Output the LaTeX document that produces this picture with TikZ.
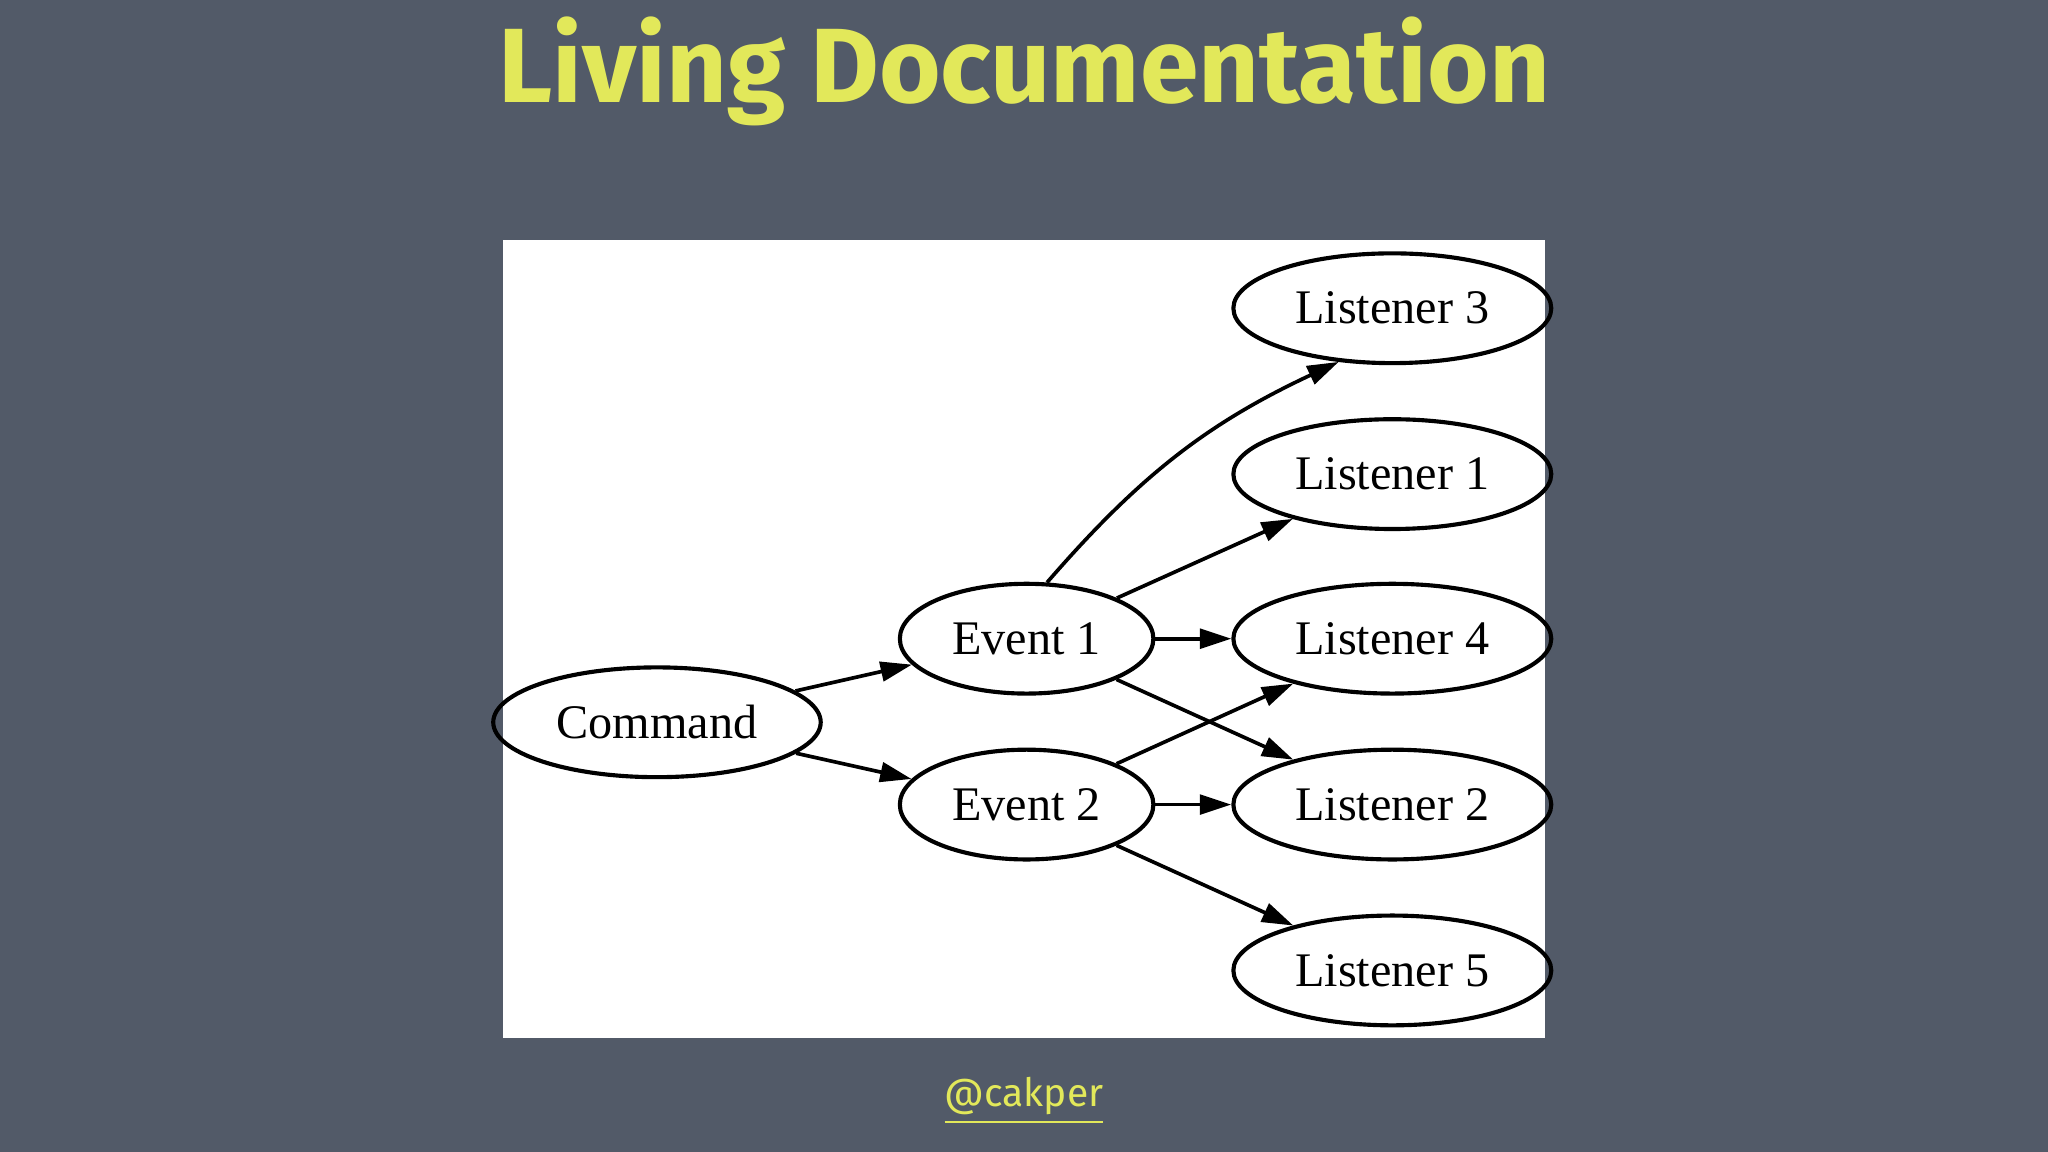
\documentclass[tikz,border=0pt]{standalone}
\usepackage{fontspec}
\setmainfont{Liberation Serif}
\newfontfamily\fira{Fira Sans}
\usetikzlibrary{shapes.geometric,arrows.meta}
\definecolor{bg}{HTML}{525A68}
\definecolor{ttl}{HTML}{E2E85A}
\begin{document}
\begin{tikzpicture}[x=0.01cm,y=-0.01cm,
  el/.style={ellipse,draw,line width=0.9pt,minimum height=0.84cm,font=\fontsize{10.5}{12}\selectfont},
  cmd/.style={el,minimum width=2.2cm},
  ev/.style={el,minimum width=1.74cm},
  li/.style={el,minimum width=2.16cm},
  arr/.style={-{Triangle[length=0.24cm,width=0.15cm]},line width=0.8pt}]
\fill[bg] (0,0) rectangle (1568,882);
\useasboundingbox (0,0) rectangle (1568,882);
\fill[white] (385,184) rectangle (1183,795);
\node[text=ttl,font=\fira\bfseries\fontsize{23}{26}\selectfont] (title) at (784,55) {Living Documentation};
\node[text=ttl,font=\fira\fontsize{8.5}{10}\selectfont] (foot) at (784,843) {\underline{@cakper}};
\node[cmd] (c) at (503,553) {Command};
\node[ev] (e1) at (786,489) {Event 1};
\node[ev] (e2) at (786,616) {Event 2};
\node[li] (l3) at (1066,236) {Listener 3};
\node[li] (l1) at (1066,363) {Listener 1};
\node[li] (l4) at (1066,489) {Listener 4};
\node[li] (l2) at (1066,616) {Listener 2};
\node[li] (l5) at (1066,743) {Listener 5};
\draw[arr] (c) -- (e1);
\draw[arr] (c) -- (e2);
\draw[arr] (e1.70) to[bend left=12] (l3.225);
\draw[arr] (e1) -- (l1);
\draw[arr] (e1) -- (l4);
\draw[arr] (e1) -- (l2);
\draw[arr] (e2) -- (l4);
\draw[arr] (e2) -- (l2);
\draw[arr] (e2) -- (l5);
\end{tikzpicture}
\end{document}
